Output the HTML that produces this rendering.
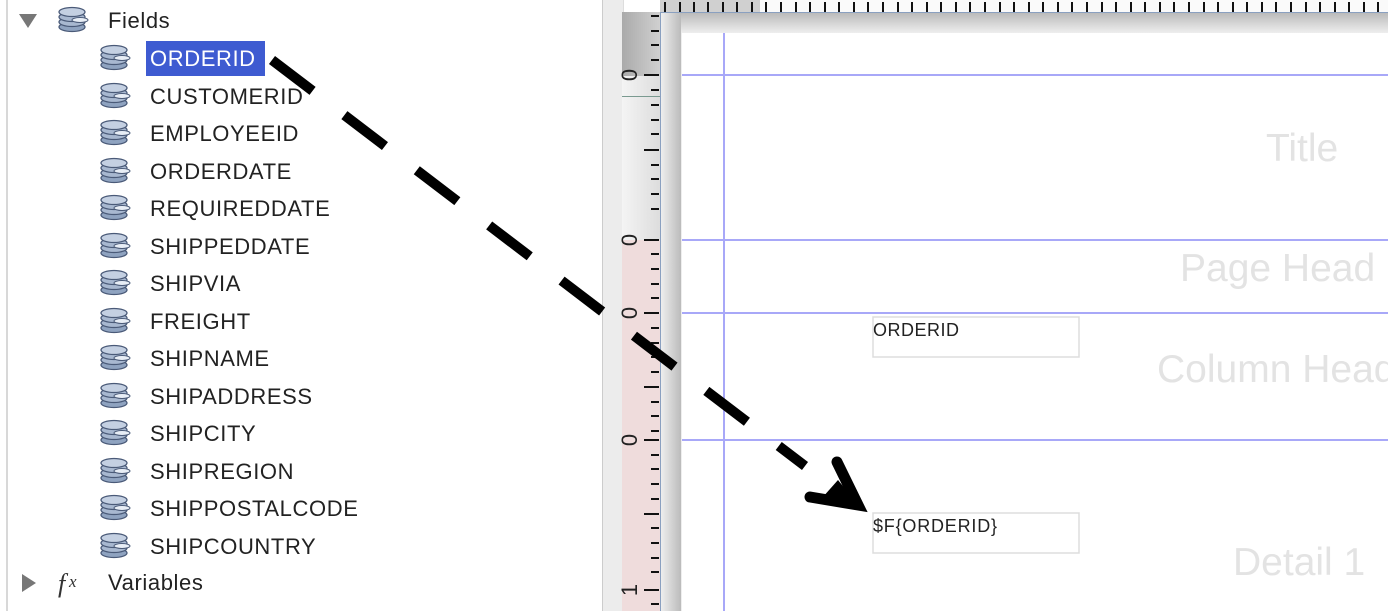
<!DOCTYPE html>
<html><head><meta charset="utf-8"><style>
body{margin:0;width:1388px;height:611px;overflow:hidden;background:#fff;position:relative;font-family:"Liberation Sans",sans-serif}
.abs{position:absolute}
.it{position:absolute;left:150px;font-size:22px;color:#222;line-height:26px;letter-spacing:0.6px}
.band{position:absolute;color:#e3e3e3;font-size:39px;white-space:nowrap}
</style></head><body>
<div class="abs" style="left:6px;top:0;width:2px;height:611px;background:#d8d8d8"></div>
<svg class="abs" style="left:0;top:0" width="600" height="611">
<defs><g id="db">
<ellipse cx="14" cy="22" rx="13" ry="4.5" fill="#8fa3c0" stroke="#4a5a78" stroke-width="1.3"/>
<ellipse cx="14" cy="17" rx="13" ry="4.5" fill="#a8b8d0" stroke="#4a5a78" stroke-width="1.3"/>
<ellipse cx="14" cy="12" rx="13" ry="4.5" fill="#a8b8d0" stroke="#4a5a78" stroke-width="1.3"/>
<ellipse cx="14" cy="7" rx="13" ry="4.5" fill="#c4d0e2" stroke="#4a5a78" stroke-width="1.3"/>
<ellipse cx="22" cy="15" rx="8" ry="2.5" fill="#e8eef6" stroke="#4a5a78" stroke-width="1"/>
</g></defs>
<polygon points="19,14 37,14 28,28" fill="#777"/>
<use href="#db" x="58" y="5"/>
<use href="#db" x="100" y="43"/><use href="#db" x="100" y="81"/><use href="#db" x="100" y="118"/><use href="#db" x="100" y="156"/><use href="#db" x="100" y="193"/><use href="#db" x="100" y="231"/><use href="#db" x="100" y="268"/><use href="#db" x="100" y="306"/><use href="#db" x="100" y="343"/><use href="#db" x="100" y="381"/><use href="#db" x="100" y="418"/><use href="#db" x="100" y="456"/><use href="#db" x="100" y="493"/><use href="#db" x="100" y="531"/>
<polygon points="22,574 22,592 36,583" fill="#777"/>
<text x="58" y="592" font-family="Liberation Serif,serif" font-style="italic" font-size="26" fill="#333">f</text>
<text x="69" y="587" font-family="Liberation Serif,serif" font-style="italic" font-size="17" fill="#333">x</text>
</svg>
<div class="it" style="left:108px;top:8px">Fields</div>
<div class="abs" style="left:146px;top:41px;width:119px;height:35px;background:#3e5bd1"></div>
<div class="it" style="top:46px;color:#fff">ORDERID</div>
<div class="it" style="top:84px">CUSTOMERID</div>
<div class="it" style="top:121px">EMPLOYEEID</div>
<div class="it" style="top:159px">ORDERDATE</div>
<div class="it" style="top:196px">REQUIREDDATE</div>
<div class="it" style="top:234px">SHIPPEDDATE</div>
<div class="it" style="top:271px">SHIPVIA</div>
<div class="it" style="top:309px">FREIGHT</div>
<div class="it" style="top:346px">SHIPNAME</div>
<div class="it" style="top:384px">SHIPADDRESS</div>
<div class="it" style="top:421px">SHIPCITY</div>
<div class="it" style="top:459px">SHIPREGION</div>
<div class="it" style="top:496px">SHIPPOSTALCODE</div>
<div class="it" style="top:534px">SHIPCOUNTRY</div>
<div class="it" style="left:108px;top:570px">Variables</div>

<div class="abs" style="left:602px;top:0;width:20px;height:611px;background:#ececec;border-left:1px solid #ccc;border-right:1px solid #ddd"></div>
<div class="abs" style="left:622px;top:12px;width:38px;height:599px;background:linear-gradient(90deg,#f4f4f4,#ddd)"></div>
<div class="abs" style="left:622px;top:12px;width:38px;height:64px;background:linear-gradient(90deg,#aaa,#d0d0d0)"></div>
<div class="abs" style="left:622px;top:240px;width:38px;height:371px;background:#efdcdc"></div>
<div class="abs" style="left:622px;top:96px;width:38px;height:1px;background:#7a9a90"></div>
<div class="abs" style="left:660px;top:12px;width:1px;height:599px;background:#8aa0c0"></div>
<div class="abs" style="left:660px;top:0;width:728px;height:12px;background:#fafafa;border-bottom:1px solid #8aa0c0"></div>
<div class="abs" style="left:660px;top:0;width:100px;height:12px;background:#d0d0d0"></div>
<div class="abs" style="left:661px;top:13px;width:727px;height:598px;background:linear-gradient(180deg,#bbb,#eee 20px)"></div>
<div class="abs" style="left:661px;top:13px;width:20px;height:598px;background:linear-gradient(90deg,#eee,#bbb)"></div>
<div class="abs" style="left:682px;top:33px;width:706px;height:578px;background:#fff"></div>
<svg class="abs" style="left:0;top:0" width="1388" height="611">
<g stroke="#111" stroke-width="2">
<path d="M665 2v10M680 2v10M694 2v10M708 2v10M723 2v10M737 2v10M752 2v10M766 2v10M781 2v10M796 2v10M810 2v10M825 2v10M839 2v10M854 2v10M868 2v10M883 2v10M898 2v10M912 2v10M927 2v10M941 2v10M956 2v10M970 2v10M985 2v10M1000 2v10M1014 2v10M1029 2v10M1043 2v10M1058 2v10M1072 2v10M1087 2v10M1102 2v10M1116 2v10M1131 2v10M1145 2v10M1160 2v10M1174 2v10M1189 2v10M1204 2v10M1218 2v10M1233 2v10M1247 2v10M1262 2v10M1276 2v10M1291 2v10M1306 2v10M1320 2v10M1335 2v10M1349 2v10M1364 2v10M1378 2v10"/>
</g>
<g stroke="#111" stroke-width="2">
<path d="M651 16h8M651 31h8M651 45h8M651 60h8M644 75h15M651 90h8M651 105h8M651 120h8M651 134h8M644 150h15M651 165h8M651 179h8M651 194h8M651 209h8M644 240h15M651 254h8M651 269h8M651 284h8M651 298h8M644 313h15M651 328h8M651 343h8M651 357h8M651 372h8M644 387h15M651 402h8M651 416h8M651 431h8M644 440h15M651 455h8M651 469h8M651 484h8M651 499h8M644 514h15M651 528h8M651 543h8M651 558h8M651 572h8M644 590h15M651 604h8"/>
</g>
<g font-family="Liberation Sans,sans-serif" font-size="22" fill="#222">
<text transform="translate(637,75) rotate(-90)" text-anchor="middle">0</text>
<text transform="translate(637,240) rotate(-90)" text-anchor="middle">0</text>
<text transform="translate(637,313) rotate(-90)" text-anchor="middle">0</text>
<text transform="translate(637,440) rotate(-90)" text-anchor="middle">0</text>
<text transform="translate(637,590) rotate(-90)" text-anchor="middle">1</text>
</g>
<g stroke="#a8a8f8" stroke-width="2">
<path d="M682 75H1388M682 240H1388M682 313H1388M682 440H1388M724 33V611"/>
</g>
<rect x="873" y="317" width="206" height="40" fill="none" stroke="#ddd" stroke-width="1.5"/>
<rect x="873" y="513" width="206" height="40" fill="none" stroke="#ddd" stroke-width="1.5"/>
<text x="873" y="336" font-family="Liberation Sans,sans-serif" font-size="18" fill="#222" textLength="86">ORDERID</text>
<text x="873" y="532" font-family="Liberation Sans,sans-serif" font-size="18" fill="#222" textLength="124">$F{ORDERID}</text>
<line x1="272" y1="60" x2="805" y2="466" stroke="#000" stroke-width="10" stroke-dasharray="51 40"/>
<path d="M837 462 L858 505 L810 497" fill="none" stroke="#000" stroke-width="11" stroke-linecap="round" stroke-linejoin="miter"/>
<polygon points="838,480 858,505 822,498" fill="#000"/>
</svg>
<div class="band" style="left:1266px;top:127px">Title</div>
<div class="band" style="left:1180px;top:247px">Page Head</div>
<div class="band" style="left:1157px;top:348px">Column Head</div>
<div class="band" style="left:1233px;top:541px">Detail 1</div>
</body></html>
